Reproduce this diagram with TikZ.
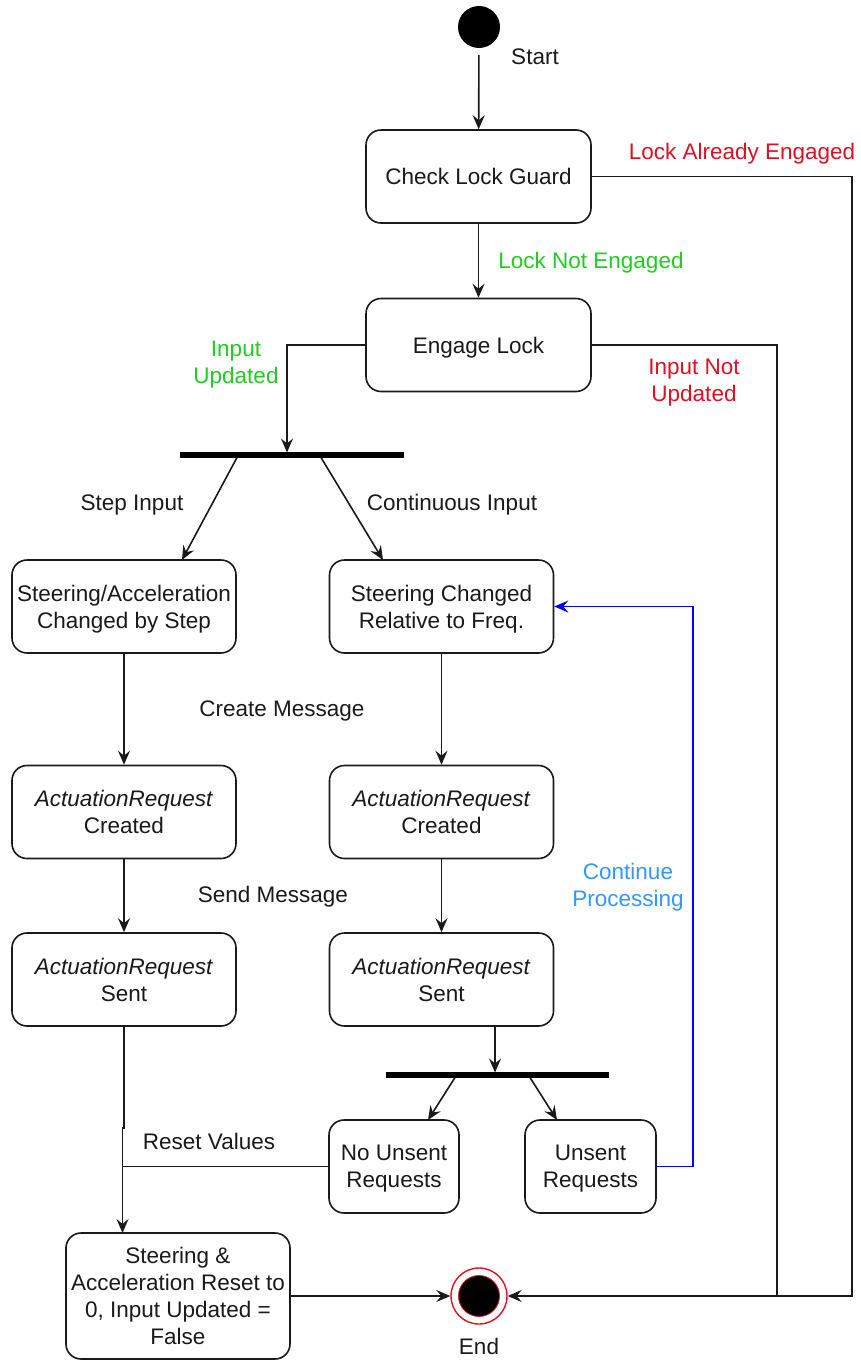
\documentclass[tikz,border=0pt]{standalone}
\usepackage{fontspec}
\setmainfont{Liberation Sans}
\usetikzlibrary{arrows.meta}
\definecolor{ink}{HTML}{1A1A1A}
\definecolor{okgreen}{HTML}{22CC22}
\definecolor{errred}{HTML}{DD1122}
\definecolor{loopblue}{HTML}{0000FF}
\definecolor{noteblue}{HTML}{3399FF}

\begin{document}
\begin{tikzpicture}[x=1pt,y=-1pt,
  font=\fontsize{22.5}{27}\selectfont,
  stbox/.style={draw=ink, line width=1.6pt, rounded corners=15pt, fill=white,
    align=center, inner sep=0pt, text=ink, minimum height=93pt, minimum width=224pt,
    text depth=0pt, yshift=0pt},
  flow/.style={draw=ink, line width=1.6pt, -{Stealth[length=14pt,width=12pt,inset=5pt]}},
  plain/.style={draw=ink, line width=1.6pt},
  forkbar/.style={fill=black, inner sep=0pt, minimum height=5.5pt},
  lbl/.style={align=center, inner sep=0pt, text=ink}]

\fill[white] (0,0) rectangle (861,1363);
\useasboundingbox (0,0) rectangle (861,1363);

% states
\node[fill=black, circle, minimum size=42pt, inner sep=0pt] (start) at (479,27) {};
\node[lbl] (startlbl) at (535,57) {Start};
\node[stbox, minimum width=225pt] (guard) at (478.5,176.5) {Check Lock Guard};
\node[stbox, minimum width=225pt] (engage) at (478.5,345) {Engage Lock};
\node[forkbar, minimum width=224pt] (fork1) at (292,455) {};
\node[stbox] (stepchg) at (124,606.5) {Steering/Acceleration\\Changed by Step};
\node[stbox] (contchg) at (441.5,606.5) {Steering Changed\\Relative to Freq.};
\node[stbox] (createdL) at (124,812) {\textit{ActuationRequest}\\Created};
\node[stbox] (createdR) at (441.5,812) {\textit{ActuationRequest}\\Created};
\node[stbox] (sentL) at (124,979.5) {\textit{ActuationRequest}\\Sent};
\node[stbox] (sentR) at (441.5,979.5) {\textit{ActuationRequest}\\Sent};
\node[forkbar, minimum width=223pt] (fork2) at (497.5,1075) {};
\node[stbox, minimum width=130pt] (nounsent) at (394,1166.5) {No Unsent\\Requests};
\node[stbox, minimum width=131pt] (unsent) at (590.5,1166.5) {Unsent\\Requests};
\node[stbox, minimum height=126pt] (reset) at (178,1296)
  {Steering \&\\Acceleration Reset to\\0, Input Updated =\\False};
\node[circle, draw=errred, fill=white, line width=1.4pt, minimum size=56pt, inner sep=0pt] (end) at (479,1296) {};
\node[circle, draw=errred, fill=black, line width=0.8pt, minimum size=41pt, inner sep=0pt] (endcore) at (479,1296) {};
\node[lbl] (endlbl) at (479,1346) {End};

% bend and attachment points
\coordinate (rr) at (852,1296);
\coordinate (rm) at (777,1296);
\coordinate (f1in) at (287,452.5);
\coordinate (f1a) at (237,457.5);
\coordinate (f1b) at (321,457.5);
\coordinate (s1) at (182,560);
\coordinate (s2) at (383,560);
\coordinate (sRout) at (495,1026);
\coordinate (f2in) at (495,1072.5);
\coordinate (f2a) at (455,1077.5);
\coordinate (f2b) at (530,1077.5);
\coordinate (n1) at (428,1120);
\coordinate (n2) at (557,1120);
\coordinate (lp) at (693,606.5);
\coordinate (jogA) at (124,1128);
\coordinate (jogB) at (122.5,1128);
\coordinate (rin) at (122.5,1233);
\coordinate (mrg) at (122.5,1166.5);

% transitions
\draw[flow, shorten <=7pt] (start) -- (guard);
\draw[flow] (guard) -- (engage);
\draw[flow] (guard.east) -| (rr) -- (end.east);
\draw[plain] (engage.east) -| (rm);
\draw[flow] (engage.west) -| (f1in);
\draw[flow] (f1a) -- (s1);
\draw[flow] (f1b) -- (s2);
\draw[flow] (stepchg) -- (createdL);
\draw[flow] (createdL) -- (sentL);
\draw[flow] (contchg) -- (createdR);
\draw[flow] (createdR) -- (sentR);
\draw[flow] (sRout) -- (f2in);
\draw[flow] (f2a) -- (n1);
\draw[flow] (f2b) -- (n2);
\draw[flow, draw=loopblue] (unsent.east) -| (lp) -- (contchg.east);
\draw[flow] (sentL.south) -- (jogA) -- (jogB) -- (rin);
\draw[plain] (nounsent.west) -- (mrg);
\draw[flow] (reset.east) -- (end.west);

% guard and transition labels
\node[lbl, text=errred] (lae) at (742,154) {Lock Already Engaged};
\node[lbl, text=okgreen] (lne) at (591,263) {Lock Not Engaged};
\node[lbl, text=okgreen] (iu) at (236,364.5) {Input\\Updated};
\node[lbl, text=errred] (inu) at (694,383) {Input Not\\Updated};
\node[lbl] (stepin) at (132,505) {Step Input};
\node[lbl] (contin) at (452,505) {Continuous Input};
\node[lbl] (cmsg) at (282,711) {Create Message};
\node[lbl] (smsg) at (273,897) {Send Message};
\node[lbl, text=noteblue] (cproc) at (628,887) {Continue\\Processing};
\node[lbl] (rvals) at (209,1141) {Reset Values};
\end{tikzpicture}
\end{document}
